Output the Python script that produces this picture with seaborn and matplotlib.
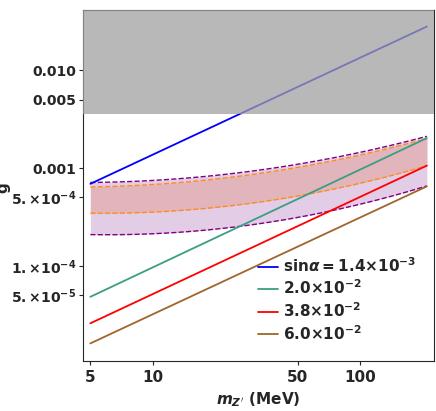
import numpy as np
import pandas as pd
import seaborn as sns
from matplotlib import pyplot as plt

# straight lines g'(m) for each sin(alpha), endpoints
m_ends = [5, 210]
g_blue = [6.9e-4, 2.82e-2]
g_teal = [4.8e-5, 2.03e-3]
g_red = [2.57e-5, 1.06e-3]
g_brown = [1.6e-5, 6.5e-4]
labels = [r"$\mathbf{sin}\alpha\mathbf{=1.4{\times}10^{-3}}$",
          r"$\mathbf{2.0{\times}10^{-2}}$",
          r"$\mathbf{3.8{\times}10^{-2}}$",
          r"$\mathbf{6.0{\times}10^{-2}}$"]
colors = ["#0000ff", "#3a9e82", "#ff0000", "#a0652a"]

# band boundaries
m_band = [5, 20, 50, 100, 210]
purple_up = [7.1e-4, 8.5e-4, 1.1e-3, 1.42e-3, 2.14e-3]
orange_up = [6.4e-4, 7.7e-4, 1.04e-3, 1.32e-3, 2.03e-3]
orange_lo = [3.46e-4, 3.9e-4, 5.3e-4, 6.9e-4, 1.06e-3]
purple_lo = [2.1e-4, 2.3e-4, 3.2e-4, 4.3e-4, 6.5e-4]
excluded_g = 3.57e-3

sns.set_style("ticks")
plt.rcParams['font.family'] = ['DejaVu Sans']
plt.rcParams['font.weight'] = 'bold'

fig = plt.figure(figsize=(4.36, 4.11), dpi=100)
ax = fig.add_axes([0.19, 0.122, 0.806, 0.854])

# smooth curve through the read points (quadratic in log-log)
mm = np.logspace(np.log10(5), np.log10(210), 100)
def smooth(y):
    c = np.polyfit(np.log10(m_band), np.log10(y), 2)
    return 10 ** np.polyval(c, np.log10(mm))

ax.fill_between(mm, smooth(purple_lo), smooth(purple_up), color="#e3cce6", lw=0)
ax.fill_between(mm, smooth(orange_lo), smooth(orange_up), color="#e2b5bd", lw=0)
for y, c in [(purple_up, "purple"), (purple_lo, "purple"),
             (orange_up, "#ff8c1a"), (orange_lo, "#ff8c1a")]:
    sns.lineplot(x=mm, y=smooth(y), ax=ax, color=c, lw=1, linestyle="--")

df = pd.DataFrame({
    "m": m_ends * 4,
    "g": g_blue + g_teal + g_red + g_brown,
    "s": [l for l in labels for _ in range(2)],
})
sns.lineplot(data=df, x="m", y="g", hue="s", palette=colors, ax=ax, lw=1.3)

ax.axhspan(excluded_g, 1, color="#a0a0a0", alpha=0.75, lw=0, zorder=5)

ax.set_xscale("log")
ax.set_yscale("log")
ax.set_xlim(4.6, 228)
ax.set_ylim(1.06e-5, 0.0418)
ax.set_xticks([5, 10, 50, 100])
ax.set_xticklabels(["5", "10", "50", "100"])
ax.set_yticks([5e-5, 1e-4, 5e-4, 1e-3, 5e-3, 1e-2])
ax.set_yticklabels([r"$\mathbf{5.{\times}10^{-5}}$", r"$\mathbf{1.{\times}10^{-4}}$",
                    r"$\mathbf{5.{\times}10^{-4}}$", "0.001", "0.005", "0.010"])
ax.minorticks_off()
ax.tick_params(axis="x", labelsize=11, length=3)
ax.tick_params(axis="y", labelsize=10, length=3, pad=2)
ax.set_xlabel(r"$m_{Z'}$ (MeV)", fontsize=11, fontweight="bold")
ax.set_ylabel("g'", fontsize=11, fontweight="bold", labelpad=0)

ax.legend(frameon=False, loc="lower right", fontsize=11, handlelength=1.3,
          handletextpad=0.3, labelspacing=0.25, borderaxespad=0.8)

fig.savefig("out.png", dpi=100)
